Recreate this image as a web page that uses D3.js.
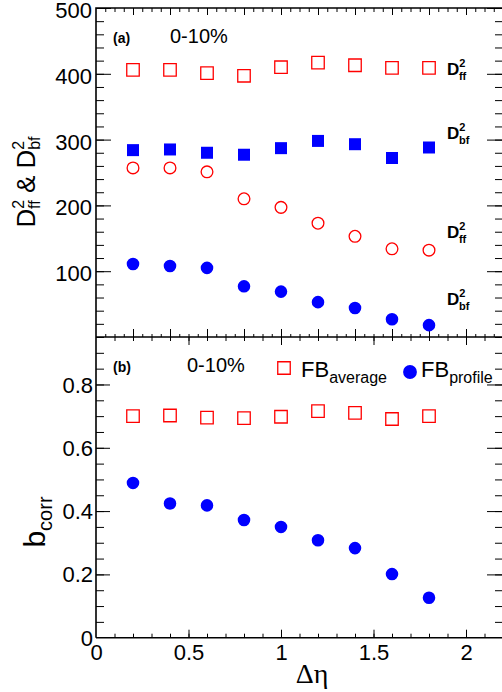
<!DOCTYPE html>
<html>
<head>
<meta charset="utf-8">
<script src="https://cdn.jsdelivr.net/npm/d3@7"></script>
<style>
body { margin: 0; background: #fff; }
svg { display: block; font-family: "Liberation Sans", Arial, sans-serif; }
</style>
</head>
<body>
<div id="chart"></div>
<script>
// data
var deta = [0.2, 0.4, 0.6, 0.8, 1.0, 1.2, 1.4, 1.6, 1.8];
var ffAvg = [406, 406, 401, 397, 410, 417, 413, 409, 409];      // open squares
var bfAvg = [284, 285, 280, 277, 287, 298, 293, 272, 288];      // filled squares
var ffProf = [257, 257, 251, 210, 197, 173, 153, 134, 132];     // open circles
var bfProf = [111, 108, 105, 77, 69, 53, 44, 27, 18];           // filled circles
var fbAverage = [0.700, 0.702, 0.695, 0.694, 0.698, 0.716, 0.710, 0.691, 0.700];
var fbProfile = [0.489, 0.424, 0.418, 0.372, 0.350, 0.308, 0.283, 0.201, 0.126];

var topTicks = [100, 200, 300, 400, 500];
var botTicks = [0, 0.2, 0.4, 0.6, 0.8];
var xTicks = [0, 0.5, 1, 1.5, 2];

var width = 502, height = 692;
var red = "#ff0000", blue = "#0000ff";

var svg = d3.select("#chart").append("svg")
    .attr("width", width)
    .attr("height", height);

var x = d3.scaleLinear().domain([0, 2.2]).range([96, 503]);
var yTop = d3.scaleLinear().domain([0, 500]).range([337, 8]);
var yBot = d3.scaleLinear().domain([0, 0.95]).range([637.7, 337]);

function range(a, b, step) {
    var out = [];
    for (var v = a; v <= b + 1e-9; v += step) out.push(+v.toFixed(4));
    return out;
}

// draw a set of inward tick marks with a d3 axis, no labels, no domain line
function tickSet(axisFn, scale, values, size, transform) {
    var g = svg.append("g")
        .attr("transform", transform)
        .call(axisFn(scale).tickValues(values).tickSize(size).tickSizeOuter(0).tickFormat(""));
    g.select(".domain").remove();
    g.selectAll("line").attr("stroke", "#000").attr("stroke-width", 1);
}

// --- top panel ticks
tickSet(d3.axisRight, yTop, range(20, 500, 20), 8, "translate(96,0)");
tickSet(d3.axisRight, yTop, range(100, 500, 100), 15, "translate(96,0)");
tickSet(d3.axisLeft, yTop, range(20, 500, 20), 7, "translate(502,0)");
tickSet(d3.axisLeft, yTop, range(100, 500, 100), 15, "translate(502,0)");
tickSet(d3.axisBottom, x, range(0.05, 2.2, 0.05), 4, "translate(0,8)");
tickSet(d3.axisBottom, x, range(0.2, 2.2, 0.2), 7, "translate(0,8)");
tickSet(d3.axisTop, x, range(0.05, 2.2, 0.05), 3, "translate(0,337)");
tickSet(d3.axisTop, x, range(0.2, 2.2, 0.2), 8, "translate(0,337)");

// --- bottom panel ticks
tickSet(d3.axisRight, yBot, range(0.05, 0.95, 0.05), 8, "translate(96,0)");
tickSet(d3.axisRight, yBot, range(0.2, 0.8, 0.2), 14, "translate(96,0)");
tickSet(d3.axisLeft, yBot, range(0.05, 0.95, 0.05), 7, "translate(502,0)");
tickSet(d3.axisLeft, yBot, range(0.2, 0.8, 0.2), 15, "translate(502,0)");
tickSet(d3.axisBottom, x, range(0.1, 2.2, 0.1), 4, "translate(0,337)");
tickSet(d3.axisBottom, x, range(0.5, 2, 0.5), 8, "translate(0,337)");
tickSet(d3.axisTop, x, range(0.1, 2.2, 0.1), 4, "translate(0,637.7)");
tickSet(d3.axisTop, x, range(0.5, 2, 0.5), 8, "translate(0,637.7)");

// frame lines
svg.append("path")
    .attr("d", "M96,637.7V8H503 M96,337H503 M96,637.7H503")
    .attr("fill", "none")
    .attr("stroke", "#000")
    .attr("stroke-width", 1.6);

// tick labels
function labels(axis, transform) {
    var g = svg.append("g")
        .attr("transform", transform)
        .call(axis);
    g.select(".domain").remove();
    g.selectAll("text")
        .attr("font-family", "Liberation Sans, Arial, sans-serif")
        .attr("font-size", 22)
        .attr("fill", "#000");
    return g;
}
labels(d3.axisLeft(yTop).tickValues(topTicks).tickSize(0).tickPadding(4).tickFormat(d3.format("d")), "translate(96,2.5)");
labels(d3.axisLeft(yBot).tickValues(botTicks).tickSize(0).tickPadding(3).tickFormat(function(d){ return d === 0 ? "0" : d3.format(".1f")(d); }), "translate(96,0.5)");
labels(d3.axisBottom(x).tickValues(xTicks).tickSize(0).tickPadding(7).tickFormat(function(d){ return d3.format("")(d); }), "translate(0,637.7)");

// markers
var sq = d3.symbol().type(d3.symbolSquare).size(156);
var sqFill = d3.symbol().type(d3.symbolSquare).size(144);
var circ = d3.symbol().type(d3.symbolCircle).size(108);
var circFill = d3.symbol().type(d3.symbolCircle).size(124);

function series(vals, yScale, sym, fill, stroke) {
    svg.append("g").selectAll("path")
        .data(vals)
        .enter()
        .append("path")
        .attr("transform", function(d, i){ return "translate(" + x(deta[i]) + "," + yScale(d) + ")"; })
        .attr("d", sym)
        .attr("fill", fill)
        .attr("stroke", stroke)
        .attr("stroke-width", stroke === "none" ? 0 : 1.3);
}
series(ffAvg, yTop, sq, "none", red);
series(bfAvg, yTop, sqFill, blue, "none");
series(ffProf, yTop, circ, "none", red);
series(bfProf, yTop, circFill, blue, "none");
series(fbAverage, yBot, sq, "none", red);
series(fbProfile, yBot, circFill, blue, "none");

// panel annotations
function note(tx, ty, txt, size, weight) {
    svg.append("text")
        .attr("x", tx).attr("y", ty)
        .attr("font-size", size)
        .attr("font-weight", weight || "normal")
        .text(txt);
}
note(113, 43, "(a)", 14, "bold");
note(170, 43, "0-10%", 20);
note(113, 372, "(b)", 14, "bold");
note(187, 372, "0-10%", 20);

// D^2 labels on the right of the top panel
function dLabel(tx, ty, sub) {
    var t = svg.append("text")
        .attr("x", tx).attr("y", ty)
        .attr("font-weight", "bold")
        .attr("font-size", 17);
    t.append("tspan").text("D");
    t.append("tspan").attr("font-size", 11).attr("dy", -8).text("2");
    t.append("tspan").attr("font-size", 11).attr("dx", -6.5).attr("dy", 13).text(sub);
}
dLabel(447, 75, "ff");
dLabel(447, 139, "bf");
dLabel(447, 238, "ff");
dLabel(447, 305, "bf");

// legend of the bottom panel
svg.append("path").attr("transform", "translate(284,368)").attr("d", sq)
    .attr("fill", "none").attr("stroke", red).attr("stroke-width", 1.3);
svg.append("path").attr("transform", "translate(410,372)").attr("d", d3.symbol().type(d3.symbolCircle).size(150))
    .attr("fill", blue);
var l1 = svg.append("text").attr("x", 301).attr("y", 377).attr("font-size", 22);
l1.append("tspan").text("FB");
l1.append("tspan").attr("font-size", 16).attr("dy", 6).text("average");
var l2 = svg.append("text").attr("x", 421).attr("y", 377).attr("font-size", 22);
l2.append("tspan").text("FB");
l2.append("tspan").attr("font-size", 16).attr("dy", 6).text("profile");

// axis titles
var t1 = svg.append("text")
    .attr("transform", "translate(35,182) rotate(-90)")
    .attr("text-anchor", "middle")
    .attr("font-size", 26);
t1.append("tspan").text("D");
t1.append("tspan").attr("font-size", 16).attr("dy", -11).text("2");
t1.append("tspan").attr("font-size", 16).attr("dx", -9).attr("dy", 16).text("ff");
t1.append("tspan").attr("dy", -5).text(" & D");
t1.append("tspan").attr("font-size", 16).attr("dy", -11).text("2");
t1.append("tspan").attr("font-size", 16).attr("dx", -9).attr("dy", 16).text("bf");

var t2 = svg.append("text")
    .attr("transform", "translate(45,522) rotate(-90)")
    .attr("text-anchor", "middle")
    .attr("font-size", 30);
t2.append("tspan").text("b");
t2.append("tspan").attr("font-size", 20).attr("dy", 7).text("corr");

svg.append("text")
    .attr("x", 312).attr("y", 683)
    .attr("text-anchor", "middle")
    .attr("font-family", "Liberation Serif, Times New Roman, serif")
    .attr("font-size", 28)
    .text("Δη");
</script>
</body>
</html>
